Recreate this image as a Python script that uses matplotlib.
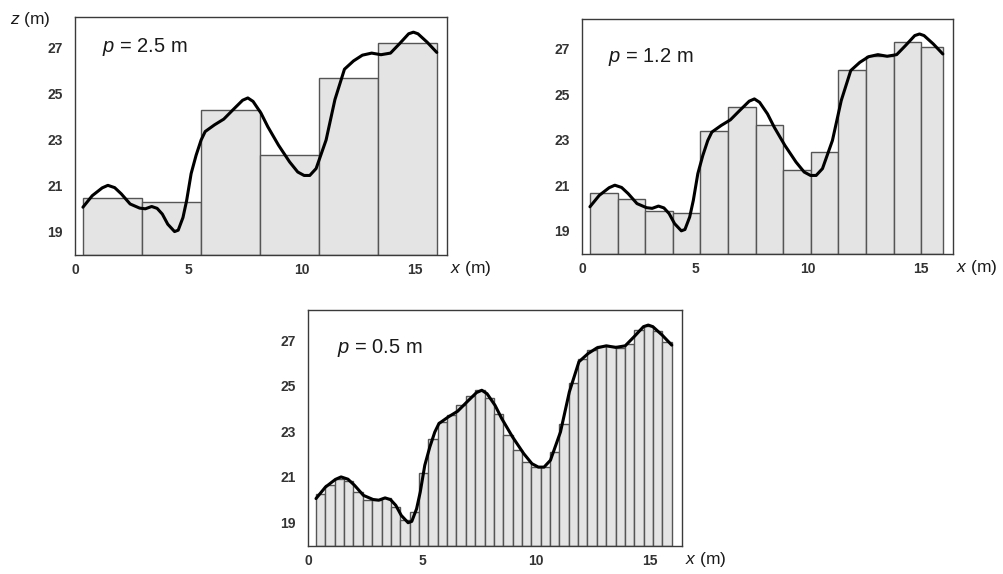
"""
Terrain profile z(x) sampled with different step lengths p.

Three panels: the same smooth ground profile, with step (bar) approximations
drawn underneath for p = 2.5 m, 1.2 m and 0.5 m.
"""

import numpy as np
import matplotlib.pyplot as plt

# ground profile (x in m, z in m)
profile_x = [0.35, 0.76, 1.20, 1.45, 1.75, 2.04, 2.43, 2.85, 3.10, 3.38, 3.62,
             3.85, 4.09, 4.39, 4.55, 4.76, 4.92, 5.12, 5.34, 5.56, 5.74, 6.15,
             6.56, 6.97, 7.39, 7.62, 7.85, 8.20, 8.50, 8.97, 9.46, 9.82, 10.10,
             10.35, 10.63, 11.07, 11.46, 11.88, 12.28, 12.67, 13.08, 13.49,
             13.91, 14.30, 14.71, 14.92, 15.12, 15.53, 15.95]
profile_z = [20.05, 20.55, 20.89, 21.00, 20.90, 20.63, 20.19, 20.01, 19.98, 20.08,
             20.00, 19.75, 19.31, 18.99, 19.05, 19.60, 20.33, 21.51, 22.31, 22.97,
             23.34, 23.63, 23.88, 24.29, 24.70, 24.80, 24.65, 24.14, 23.55, 22.75,
             22.02, 21.58, 21.43, 21.43, 21.73, 22.97, 24.73, 26.05, 26.41, 26.66,
             26.75, 26.68, 26.75, 27.15, 27.59, 27.66, 27.59, 27.22, 26.78]

# step heights for each panel
steps_25 = [20.46, 20.29, 24.26, 22.32, 25.65, 27.20]
steps_12 = [20.64, 20.39, 19.88, 19.79, 23.37, 24.43, 23.63, 21.67, 22.45,
            26.07, 26.70, 27.32, 27.10]
steps_05 = [20.26, 20.63, 20.89, 20.80, 20.33, 19.97, 19.97, 20.07, 19.67, 19.09,
            19.48, 21.17, 22.68, 23.41, 23.70, 24.14, 24.55, 24.80, 24.44, 23.78,
            22.82, 22.16, 21.65, 21.43, 21.43, 22.09, 23.34, 25.10, 26.19, 26.56,
            26.75, 26.75, 26.66, 26.85, 27.44, 27.63, 27.40, 26.93]

panel_labels = ['$p$ = 2.5 m', '$p$ = 1.2 m', '$p$ = 0.5 m']
x_ticks = [0, 5, 10, 15]
y_ticks = [19, 21, 23, 25, 27]

YLIM = (17.97, 28.32)
XLIM = (0.03, 16.40)


def draw_panel(ax, edges, heights, label, label_pos, show_z=False):
    edges = np.asarray(edges)
    widths = np.diff(edges)
    ax.bar(edges[:-1], np.asarray(heights) - YLIM[0], width=widths, bottom=YLIM[0],
           align='edge', color='#e4e4e4', edgecolor='#555555', linewidth=1.0, zorder=2)
    ax.plot(profile_x, profile_z, color='black', linewidth=2.2,
            solid_capstyle='round', solid_joinstyle='round', zorder=3)

    ax.set_xlim(*XLIM)
    ax.set_ylim(*YLIM)
    ax.set_xticks(x_ticks)
    ax.set_yticks(y_ticks)
    ax.tick_params(length=0, labelsize=10, colors='#333333')
    ax.tick_params(axis='y', pad=9)
    ax.tick_params(axis='x', pad=6)
    for lab in ax.get_xticklabels() + ax.get_yticklabels():
        lab.set_fontweight('bold')
    for s in ax.spines.values():
        s.set_color('#3a3a3a')
        s.set_linewidth(1.0)

    ax.text(label_pos[0], label_pos[1], label, transform=ax.transAxes,
            fontsize=14.5, ha='left', va='center', color='#1a1a1a')
    ax.text(1.008, -0.058, '$x$ (m)', transform=ax.transAxes,
            fontsize=12.5, ha='left', va='center', color='#1a1a1a')
    if show_z:
        ax.text(-0.175, 0.99, '$z$ (m)', transform=ax.transAxes,
                fontsize=12.5, ha='left', va='center', color='#1a1a1a')


def main():
    plt.rcParams['font.family'] = ['Liberation Sans', 'DejaVu Sans']
    plt.rcParams['mathtext.fontset'] = 'custom'
    plt.rcParams['mathtext.rm'] = 'Liberation Sans'
    plt.rcParams['mathtext.it'] = 'Liberation Sans:italic'

    fig = plt.figure(figsize=(10.04, 5.74), dpi=100)

    ax1 = fig.add_axes([0.0747, 0.5557, 0.3705, 0.4147])
    ax2 = fig.add_axes([0.5797, 0.5575, 0.3695, 0.4094])
    ax3 = fig.add_axes([0.3068, 0.0488, 0.3725, 0.4111])

    x0, x1 = profile_x[0], profile_x[-1]

    # p = 2.5 m: six equal steps over the profile
    edges1 = np.linspace(x0, x1, len(steps_25) + 1)
    draw_panel(ax1, edges1, steps_25, panel_labels[0], (0.073, 0.874), show_z=True)

    # p = 1.2 m: equal steps, last one cut at the end of the profile
    edges2 = np.append(x0 + 1.22 * np.arange(len(steps_12)), x1)
    draw_panel(ax2, edges2, steps_12, panel_labels[1], (0.070, 0.838))

    # p = 0.5 m
    edges3 = np.linspace(x0, x1, len(steps_05) + 1)
    draw_panel(ax3, edges3, steps_05, panel_labels[2], (0.077, 0.838))

    fig.savefig('out.png', dpi=100)


if __name__ == "__main__":
    main()
